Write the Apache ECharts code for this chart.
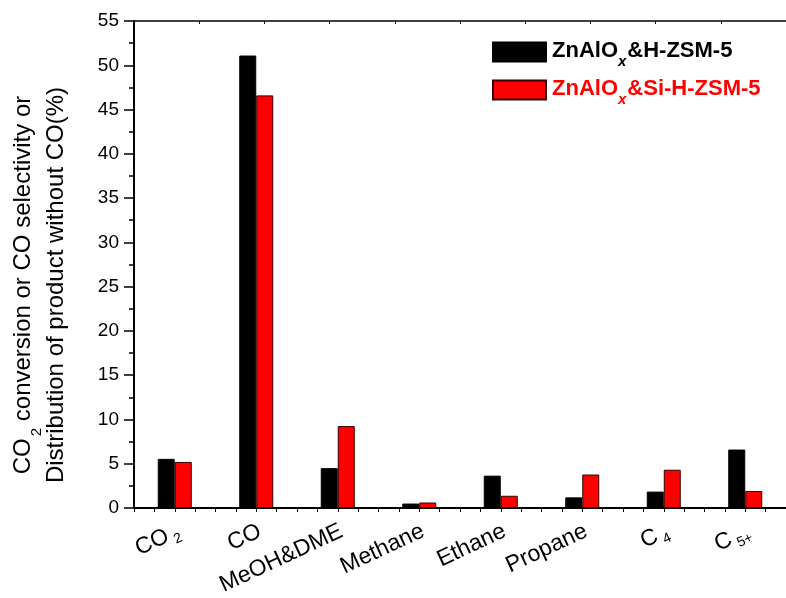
<!DOCTYPE html>
<html>
<head>
<meta charset="utf-8">
<script src="https://cdn.jsdelivr.net/npm/echarts@6/dist/echarts.min.js"></script>
<style>html,body{margin:0;padding:0;background:#fff;}#c{width:786px;height:598px;}</style>
</head>
<body>
<div id="c"></div>
<script>
const categories = ['CO2', 'CO', 'MeOH&DME', 'Methane', 'Ethane', 'Propane', 'C4', 'C5+'];
const seriesNames = ['ZnAlOx&H-ZSM-5', 'ZnAlOx&Si-H-ZSM-5'];
const blackValues = [5.55, 51.1, 4.5, 0.5, 3.65, 1.2, 1.85, 6.6];
const redValues = [5.2, 46.6, 9.25, 0.62, 1.38, 3.78, 4.32, 1.92];
const yTicks = {min: 0, max: 55, interval: 5};

const FONT = 'Liberation Sans, Arial, sans-serif';
const chart = echarts.init(document.getElementById('c'));

function catLabel(v) {
  if (v === 'CO2') return '{m|CO}{s|2}';
  if (v === 'C4') return '{m|C}{s|4}';
  if (v === 'C5+') return '{m|C}{s|5+}';
  return '{m|' + v + '}';
}
function legendLabel(name) {
  const rest = name.replace('ZnAlOx', '');
  return '{b|ZnAlO}{x|x}{b|' + rest + '}';
}
function legendRich(color) {
  return {
    b: {fontFamily: FONT, fontSize: 22, fontWeight: 'bold', color: color, lineHeight: 24, verticalAlign: 'top', padding: [0, 0, 0, 1]},
    x: {fontFamily: FONT, fontSize: 15, fontWeight: 'bold', fontStyle: 'italic', color: color, lineHeight: 15, verticalAlign: 'top', padding: [14, 0, 0, 0]}
  };
}

const option = {
  animation: false,
  backgroundColor: '#fff',
  grid: {left: 134, top: 21, width: 662, height: 487, containLabel: false},
  legend: [
    {data: [seriesNames[0]], left: 487, top: 35, itemWidth: 53, itemHeight: 19, icon: 'rect',
     formatter: legendLabel, textStyle: {rich: legendRich('#000')}},
    {data: [seriesNames[1]], left: 487, top: 73, itemWidth: 53, itemHeight: 19, icon: 'rect',
     formatter: legendLabel, textStyle: {rich: legendRich('#ff0000')}}
  ],
  xAxis: [
    {type: 'category', data: categories, boundaryGap: true, position: 'bottom',
     axisLine: {show: true, lineStyle: {color: '#000', width: 2}},
     axisTick: {show: false},
     axisLabel: {rotate: 25, margin: 14, interval: 0, formatter: catLabel, padding: [19, 0, 0, 0],
       rich: {
         m: {fontFamily: FONT, fontSize: 23, color: '#000', lineHeight: 24, verticalAlign: 'top'},
         s: {fontFamily: FONT, fontSize: 14, color: '#000', lineHeight: 14, verticalAlign: 'top', padding: [12, 0, 0, 4]}
       }},
     splitLine: {show: false}},
    {type: 'value', min: 0, max: 8, interval: 0.25, position: 'bottom',
     axisLine: {show: false}, axisLabel: {show: false}, splitLine: {show: false},
     axisTick: {show: true, inside: false, length: 4, lineStyle: {color: '#000', width: 1}}},
    {type: 'value', min: 0, max: 10, interval: 1, position: 'top',
     axisLine: {show: true, lineStyle: {color: '#000', width: 1.5}}, axisLabel: {show: false}, splitLine: {show: false},
     axisTick: {show: true, inside: true, length: 3, lineStyle: {color: '#000', width: 1}}}
  ],
  yAxis: {
    type: 'value', min: yTicks.min, max: yTicks.max, interval: yTicks.interval,
    axisLine: {show: true, lineStyle: {color: '#000', width: 2}},
    axisTick: {show: true, inside: false, length: 10, lineStyle: {color: '#000', width: 1.5}},
    minorTick: {show: true, splitNumber: 2, length: 5, lineStyle: {color: '#000', width: 1.5}},
    axisLabel: {fontFamily: FONT, fontSize: 19, color: '#000', margin: 15},
    splitLine: {show: false}
  },
  graphic: [{
    type: 'text', x: 44, y: 285, rotation: Math.PI / 2,
    style: {
      text: '{m|CO}{s|2}{m| conversion or CO selectivity or}\n{m|Distribution of product without CO(%)}',
      align: 'center', verticalAlign: 'middle',
      rich: {
        m: {fontFamily: FONT, fontSize: 24, fill: '#000', lineHeight: 33, verticalAlign: 'top'},
        s: {fontFamily: FONT, fontSize: 15, fill: '#000', lineHeight: 15, verticalAlign: 'top', padding: [18, 0, 0, 2]}
      }
    }
  }],
  series: [
    {name: seriesNames[0], type: 'bar', xAxisIndex: 0, data: blackValues, barWidth: 17, barGap: '0%',
     itemStyle: {color: '#000', borderColor: '#000', borderWidth: 1}},
    {name: seriesNames[1], type: 'bar', xAxisIndex: 0, data: redValues, barWidth: 17, barGap: '0%',
     itemStyle: {color: '#ff0000', borderColor: '#300', borderWidth: 1}}
  ]
};
chart.setOption(option);
</script>
</body>
</html>
